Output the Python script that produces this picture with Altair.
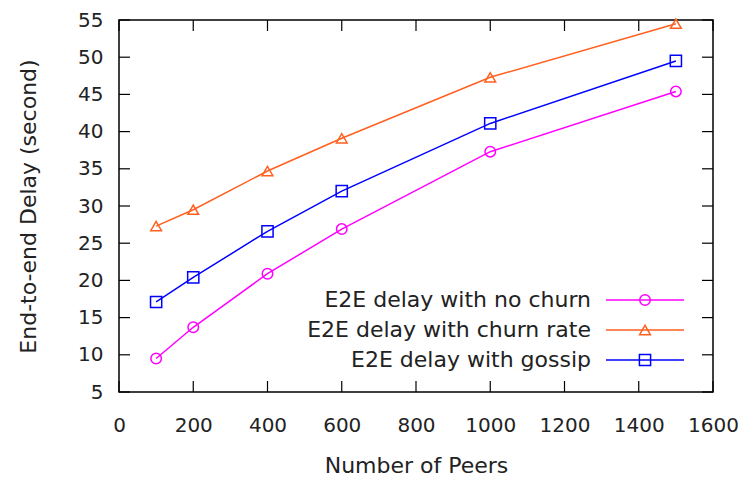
import altair as alt
import pandas as pd

peers = [100, 200, 400, 600, 1000, 1500]
no_churn = [9.5, 13.7, 20.9, 26.9, 37.3, 45.4]
churn_rate = [27.3, 29.5, 34.7, 39.1, 47.3, 54.5]
gossip = [17.1, 20.4, 26.6, 32.0, 41.1, 49.5]

series_names = ["E2E delay with no churn", "E2E delay with churn rate", "E2E delay with gossip"]
series_colors = ["#ff00ff", "#ff5f1f", "#0000ff"]
series_shapes = ["circle", "triangle-up", "square"]
series_sizes = [110, 115, 125]

x_ticks = [0, 200, 400, 600, 800, 1000, 1200, 1400, 1600]
y_ticks = [5, 10, 15, 20, 25, 30, 35, 40, 45, 50, 55]

W, H = 594, 372
FONT = "DejaVu Sans"
TXT = "#222222"

rows = []
for name, vals in zip(series_names, [no_churn, churn_rate, gossip]):
    for p, v in zip(peers, vals):
        rows.append({"peers": p, "delay": v, "series": name})
df = pd.DataFrame(rows)

xscale = alt.Scale(domain=[0, 1600], nice=False, zero=False)
yscale = alt.Scale(domain=[5, 55], nice=False, zero=False)
color = alt.Color("series:N", scale=alt.Scale(domain=series_names, range=series_colors), legend=None)

x_axis = alt.Axis(values=x_ticks, title="Number of Peers", format="d", ticks=False, tickSize=0,
                  domain=False, grid=False, labelPadding=23, labelFont=FONT,
                  labelFontSize=20, labelColor=TXT, titleFont=FONT, titleFontSize=22,
                  titleFontWeight="normal", titleColor=TXT, titleY=73,
                  titleBaseline="middle", labelFlush=False)
y_axis = alt.Axis(values=y_ticks, title="End-to-end Delay (second)", format="d", ticks=False,
                  tickSize=0, domain=False, grid=False, labelPadding=16,
                  labelFont=FONT, labelFontSize=20, labelColor=TXT, titleFont=FONT,
                  titleFontSize=22, titleFontWeight="normal", titleColor=TXT,
                  titleAngle=-90, titleX=-91, titleY=H / 2, titleBaseline="middle",
                  titleAlign="center", labelFlush=False)

def X(f):
    return alt.X(f, scale=xscale, axis=x_axis, title="Number of Peers")

def Y(f):
    return alt.Y(f, scale=yscale, axis=y_axis, title="End-to-end Delay (second)")

base = alt.Chart(df)
lines = base.mark_line(strokeWidth=1.5, clip=True).encode(
    x=X("peers:Q"), y=Y("delay:Q"), color=color, detail="series:N",
)

layers = [lines]
for name, col, shp, sz in zip(series_names, series_colors, series_shapes, series_sizes):
    pts = alt.Chart(df[df.series == name]).mark_point(
        shape=shp, size=sz, filled=False, strokeWidth=1.5, color=col, opacity=1
    ).encode(x=X("peers:Q"), y=Y("delay:Q"))
    layers.append(pts)

# inward ticks on all four sides
TL = 11
xt = pd.DataFrame({"v": x_ticks})
yt = pd.DataFrame({"v": y_ticks})
layers.append(alt.Chart(xt).mark_rule(color="black", strokeWidth=1.2).encode(
    x=X("v:Q"), y=alt.value(H), y2=alt.value(H - TL)))
layers.append(alt.Chart(xt).mark_rule(color="black", strokeWidth=1.2).encode(
    x=X("v:Q"), y=alt.value(0), y2=alt.value(TL)))
layers.append(alt.Chart(yt).mark_rule(color="black", strokeWidth=1.2).encode(
    y=Y("v:Q"), x=alt.value(0), x2=alt.value(TL)))
layers.append(alt.Chart(yt).mark_rule(color="black", strokeWidth=1.2).encode(
    y=Y("v:Q"), x=alt.value(W - TL), x2=alt.value(W)))

# in-plot legend (gnuplot style: label left of sample)
for i, (name, col, shp, sz) in enumerate(zip(series_names, series_colors, series_shapes, series_sizes)):
    yy = 280 + 30 * i
    ld = pd.DataFrame({"label": [name]})
    layers.append(alt.Chart(ld).mark_text(
        align="right", baseline="middle", font=FONT, fontSize=22, color=TXT
    ).encode(text="label:N", x=alt.value(472), y=alt.value(yy)))
    layers.append(alt.Chart(ld).mark_rule(color=col, strokeWidth=1.5).encode(
        x=alt.value(487), x2=alt.value(565), y=alt.value(yy)))
    layers.append(alt.Chart(ld).mark_point(
        shape=shp, size=sz, filled=False, strokeWidth=1.5, color=col, opacity=1
    ).encode(x=alt.value(526), y=alt.value(yy)))

chart = alt.layer(*layers).properties(
    width=W, height=H,
    autosize=alt.AutoSizeParams(type="none"),
    padding={"left": 111, "top": 12, "right": 27, "bottom": 84},
    background="white",
).configure_view(stroke="black", strokeWidth=1.5)

chart.save("out.html", embed_options={"renderer": "svg", "actions": False})
